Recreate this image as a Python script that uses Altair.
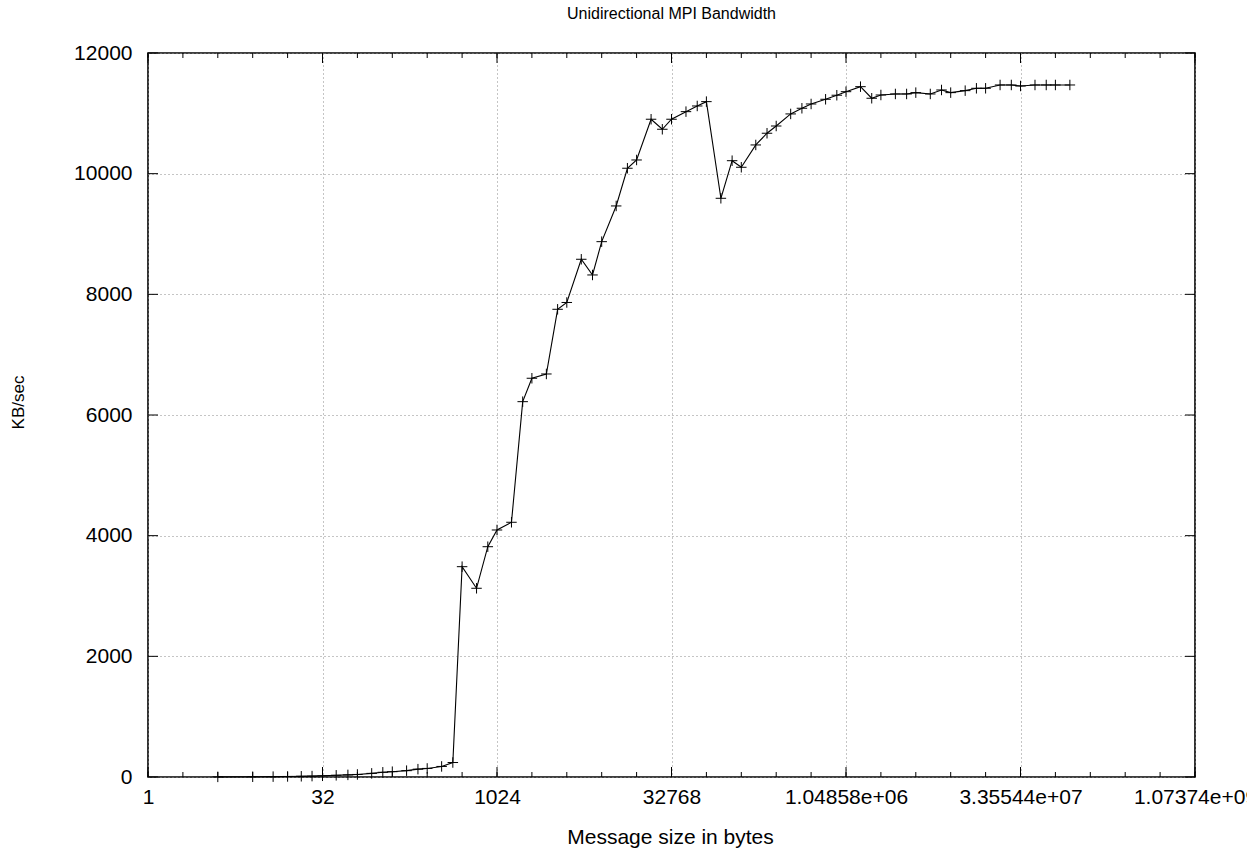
import altair as alt
import pandas as pd

# Message sizes (bytes) and measured unidirectional bandwidth (KB/sec)
sizes = [
    4, 8, 12, 16, 21, 26, 32, 42, 53, 64, 85, 106, 128, 170, 213, 256, 341, 426,
    512, 682, 853, 1024, 1365, 1706, 2048, 2730, 3413, 4096, 5461, 6826,
    8192, 10922, 13653, 16384, 21845, 27306, 32768, 43690, 54613,
    65536, 87381, 109226, 131072, 174762, 218453, 262144, 349525, 436906,
    524288, 699050, 873813, 1048576, 1398101, 1747626, 2097152, 2796202, 3495253,
    4194304, 5592405, 6990506, 8388608, 11184810, 13981013, 16777216, 22369621,
    27962026, 33554432, 44739242, 55924053, 67108864, 89478485,
]
bandwidth = [
    2, 4, 6, 9, 12, 15, 20, 28, 35, 42, 60, 78, 88, 105, 130, 142, 175, 240,
    3486, 3128, 3817, 4094, 4222, 6221, 6609, 6680, 7752, 7865, 8581, 8321,
    8873, 9465, 10090, 10227, 10902, 10736, 10902, 11028, 11122,
    11194, 9592, 10215, 10106, 10476, 10670, 10790, 10990, 11084,
    11155, 11233, 11300, 11359, 11442, 11250, 11304, 11321, 11321,
    11343, 11321, 11387, 11343, 11376, 11415, 11415, 11470,
    11470, 11453, 11470, 11470, 11470, 11470,
]

# Axis ticks
x_major = [1, 32, 1024, 32768, 1048576, 33554432, 1073741824]
x_major_labels = ["1", "32", "1024", "32768", "1.04858e+06", "3.35544e+07", "1.07374e+09"]
x_minor = [2 ** e for e in range(31)]
y_major = [0, 2000, 4000, 6000, 8000, 10000, 12000]

W, H = 1047, 724
FONT = "Liberation Sans"
MAJOR_LEN, MINOR_LEN = 10, 5

data = pd.DataFrame({"size": sizes, "bw": bandwidth})
xticks_major = pd.DataFrame({"size": x_major})
xticks_minor = pd.DataFrame({"size": x_minor})
yticks = pd.DataFrame({"bw": y_major})

xscale = alt.Scale(type="log", base=2, domain=[1, 1073741824], nice=False)
yscale = alt.Scale(domain=[0, 12000], nice=False, zero=False)

label_expr = "''"
for v, lab in reversed(list(zip(x_major, x_major_labels))):
    label_expr = f"datum.value == {v} ? '{lab}' : ({label_expr})"

x_axis = alt.Axis(
    values=x_major, labelExpr=label_expr, grid=True, gridDash=[1, 3],
    gridColor="#8a8a8a", gridWidth=1, ticks=False, domain=False,
    labelOverlap=False, labelFlush=False, labelFont=FONT, labelFontSize=21,
    labelColor="#000", labelPadding=9, title="Message size in bytes",
    titleFont=FONT, titleFontSize=21, titleFontWeight="normal", titleColor="#000",
    titleX=522, titleY=66, titleAlign="center", titleBaseline="alphabetic",
)
y_axis = alt.Axis(
    values=y_major, grid=True, gridDash=[1, 3], gridColor="#8a8a8a", gridWidth=1,
    ticks=False, domain=False, format="d", labelOverlap=False, labelFlush=False,
    labelFont=FONT, labelFontSize=21, labelColor="#000", labelPadding=16,
    title="KB/sec", titleFont=FONT, titleFontSize=17, titleFontWeight="normal",
    titleColor="#000", titleAngle=270, titleX=-130, titleY=349,
    titleAlign="center", titleBaseline="middle",
)

X = alt.X("size:Q", scale=xscale, axis=x_axis)
Y = alt.Y("bw:Q", scale=yscale, axis=y_axis)

line = alt.Chart(data).mark_line(color="#000", strokeWidth=1.1).encode(x=X, y=Y)
points = alt.Chart(data).mark_point(
    shape="M-1,0L1,0M0,-1L0,1", size=110, filled=False, color="#000",
    strokeWidth=1, opacity=1,
).encode(x=X, y=Y)


def xtick_layer(df, length):
    bottom = alt.Chart(df).mark_rule(color="#000", strokeWidth=1).encode(
        x=X, y=alt.value(H), y2=alt.value(H - length),
    )
    top = alt.Chart(df).mark_rule(color="#000", strokeWidth=1).encode(
        x=X, y=alt.value(0), y2=alt.value(length),
    )
    return bottom + top


left_ticks = alt.Chart(yticks).mark_rule(color="#000", strokeWidth=1).encode(
    y=Y, x=alt.value(0), x2=alt.value(MAJOR_LEN),
)
right_ticks = alt.Chart(yticks).mark_rule(color="#000", strokeWidth=1).encode(
    y=Y, x=alt.value(W - MAJOR_LEN), x2=alt.value(W),
)

chart = alt.layer(
    line,
    xtick_layer(xticks_minor, MINOR_LEN),
    xtick_layer(xticks_major, MAJOR_LEN),
    left_ticks,
    right_ticks,
    points,
).properties(
    width=W,
    height=H,
    background="#ffffff",
    title=alt.TitleParams(
        "Unidirectional MPI Bandwidth", font=FONT, fontSize=16,
        fontWeight="normal", color="#000", anchor="middle", offset=20,
    ),
    autosize=alt.AutoSizeParams(type="none"),
    padding={"left": 148, "top": 53, "right": 52, "bottom": 73},
).configure_view(stroke="#000", strokeWidth=1.6)

chart.save("out.html", embed_options={"renderer": "svg", "actions": False})
